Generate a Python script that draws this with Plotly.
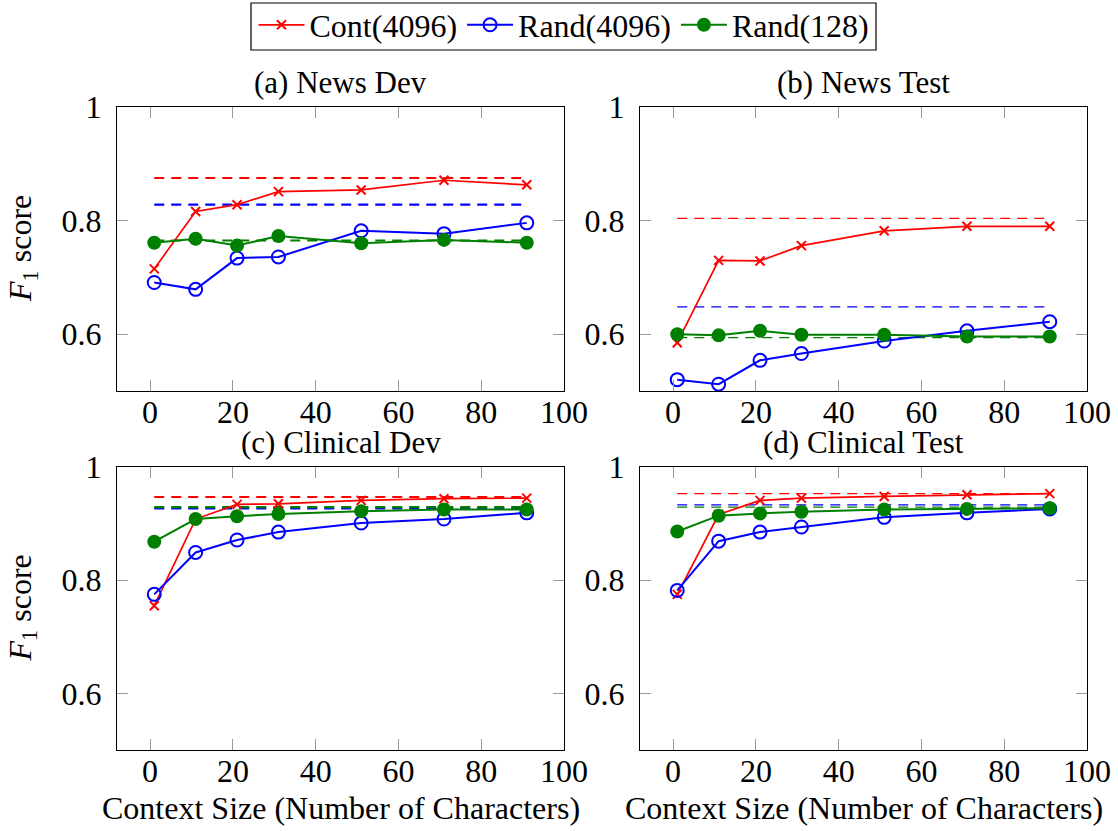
import plotly.graph_objects as go

# ---------------- data ----------------
context_sizes = [1, 11, 21, 31, 51, 71, 91]
series_names = ["Cont(4096)", "Rand(4096)", "Rand(128)"]
panel_titles = ["(a) News Dev", "(b) News Test", "(c) Clinical Dev", "(d) Clinical Test"]

news_dev_cont = [0.715, 0.816, 0.828, 0.851, 0.854, 0.871, 0.863]
news_dev_rand4096 = [0.691, 0.679, 0.734, 0.736, 0.782, 0.777, 0.796]
news_dev_rand128 = [0.761, 0.768, 0.756, 0.773, 0.760, 0.766, 0.761]
news_dev_baselines = [0.875, 0.828, 0.765]

news_test_cont = [0.585, 0.730, 0.729, 0.756, 0.782, 0.790, 0.790]
news_test_rand4096 = [0.520, 0.512, 0.554, 0.566, 0.588, 0.606, 0.622]
news_test_rand128 = [0.600, 0.598, 0.606, 0.599, 0.599, 0.596, 0.596]
news_test_baselines = [0.804, 0.648, 0.594]

clin_dev_cont = [0.755, 0.908, 0.934, 0.935, 0.941, 0.944, 0.945]
clin_dev_rand4096 = [0.775, 0.849, 0.871, 0.885, 0.901, 0.908, 0.919]
clin_dev_rand128 = [0.868, 0.908, 0.913, 0.917, 0.922, 0.925, 0.925]
clin_dev_baselines = [0.947, 0.927, 0.929]

clin_test_cont = [0.775, 0.916, 0.941, 0.945, 0.948, 0.951, 0.953]
clin_test_rand4096 = [0.782, 0.869, 0.885, 0.894, 0.911, 0.919, 0.926]
clin_test_rand128 = [0.886, 0.914, 0.918, 0.921, 0.925, 0.926, 0.927]
clin_test_baselines = [0.953, 0.933, 0.929]

x_tick_vals = [0, 20, 40, 60, 80, 100]
y_tick_vals = [0.6, 0.8, 1.0]
y_tick_text = ["0.6", "0.8", "1"]

panels = [
    (news_dev_cont, news_dev_rand4096, news_dev_rand128, news_dev_baselines),
    (news_test_cont, news_test_rand4096, news_test_rand128, news_test_baselines),
    (clin_dev_cont, clin_dev_rand4096, clin_dev_rand128, clin_dev_baselines),
    (clin_test_cont, clin_test_rand4096, clin_test_rand128, clin_test_baselines),
]

# ---------------- styling / layout ----------------
W, H = 1118, 831


def px(x):
    return x / W


def py(y):
    return 1 - y / H


FONT = "Liberation Serif"
FS = 32
colors = ["#ff0000", "#0000ff", "#008000"]
markers = [
    dict(symbol="x-thin", size=9, line=dict(width=2, color=colors[0]), color=colors[0]),
    dict(symbol="circle-open", size=13, line=dict(width=2, color=colors[1]), color=colors[1]),
    dict(symbol="circle", size=14, color=colors[2], line=dict(width=0)),
]
line_widths = [1.7, 2.0, 2.0]
# pixel boxes of the four plot areas (left, right, top, bottom)
boxes = [(117, 564, 107, 391), (640, 1087, 107, 391),
         (117, 564, 467, 750), (640, 1087, 467, 750)]
dash_widths = [2.2, 1.2, 2.2, 1.2]

fig = go.Figure()
layout = dict(
    width=W, height=H,
    margin=dict(l=0, r=0, t=0, b=0, pad=0, autoexpand=False),
    paper_bgcolor="white", plot_bgcolor="white",
    font=dict(family=FONT, size=FS, color="black"),
    showlegend=True,
)

annotations = []
for i, (cont, r4096, r128, base) in enumerate(panels):
    ax = "" if i == 0 else str(i + 1)
    xref, yref = "x" + ax, "y" + ax
    l, r, t, b = boxes[i]
    layout["xaxis" + ax] = dict(
        domain=[px(l), px(r)], range=[-8, 100], anchor=yref,
        tickvals=x_tick_vals, ticks="inside", ticklen=11, tickwidth=1,
        tickcolor="#9a9a9a", showline=True, linecolor="black", linewidth=1.3,
        mirror="ticks", showgrid=False, zeroline=False, automargin=False,
        tickfont=dict(family=FONT, size=FS, color="black"),
        ticklabelstandoff=-8, ticklabeloverflow="allow",
    )
    layout["yaxis" + ax] = dict(
        domain=[py(b), py(t)], range=[0.5, 1.0], anchor=xref,
        tickvals=y_tick_vals, ticktext=y_tick_text, ticks="inside", ticklen=11,
        tickwidth=1, tickcolor="#9a9a9a", showline=True, linecolor="black",
        linewidth=1.3, mirror="ticks", showgrid=False, zeroline=False,
        automargin=False, ticklabeloverflow="allow",
        tickfont=dict(family=FONT, size=FS, color="black"),
        ticklabelstandoff=8,
    )
    # dashed baselines
    for k in range(3):
        fig.add_trace(go.Scatter(
            x=[context_sizes[0], context_sizes[-1]], y=[base[k], base[k]],
            mode="lines", line=dict(color=colors[k], width=dash_widths[i], dash="10px,7px"),
            xaxis=xref, yaxis=yref, showlegend=False, hoverinfo="skip",
        ))
    for k, vals in enumerate([cont, r4096, r128]):
        fig.add_trace(go.Scatter(
            x=context_sizes, y=vals, mode="lines+markers", name=series_names[k],
            line=dict(color=colors[k], width=line_widths[k]), marker=markers[k],
            xaxis=xref, yaxis=yref, showlegend=(i == 0), legendgroup=series_names[k],
        ))
    annotations.append(dict(
        text=panel_titles[i], x=px((l + r) / 2), y=py(t - 25),
        xref="paper", yref="paper", xanchor="center", yanchor="middle",
        showarrow=False, font=dict(family=FONT, size=31, color="black"),
    ))
    if i >= 2:
        annotations.append(dict(
            text="Context Size (Number of Characters)", x=px((l + r) / 2),
            y=py(808), xref="paper", yref="paper", xanchor="center",
            yanchor="middle", showarrow=False,
            font=dict(family=FONT, size=FS, color="black"),
        ))
    if i % 2 == 0:
        annotations.append(dict(
            text="<i>F</i><sub>1</sub> score", x=px(22), y=py((t + b) / 2),
            xref="paper", yref="paper", xanchor="center", yanchor="middle",
            textangle=-90, showarrow=False,
            font=dict(family=FONT, size=FS, color="black"),
        ))

layout["annotations"] = annotations
layout["shapes"] = [dict(
    type="rect", xref="paper", yref="paper",
    x0=px(251), x1=px(876), y0=py(50), y1=py(3),
    line=dict(color="black", width=1.2), fillcolor="rgba(0,0,0,0)", layer="above",
)]
layout["legend"] = dict(
    orientation="h", x=px(564), xanchor="center", y=py(25), yanchor="middle",
    borderwidth=0, bgcolor="rgba(0,0,0,0)",
    font=dict(family=FONT, size=FS, color="black"),
    itemwidth=46, tracegroupgap=0,
)
fig.update_layout(**layout)
fig.write_html("out.html", config={"displayModeBar": False},
               post_script="document.body.style.margin='0';")
